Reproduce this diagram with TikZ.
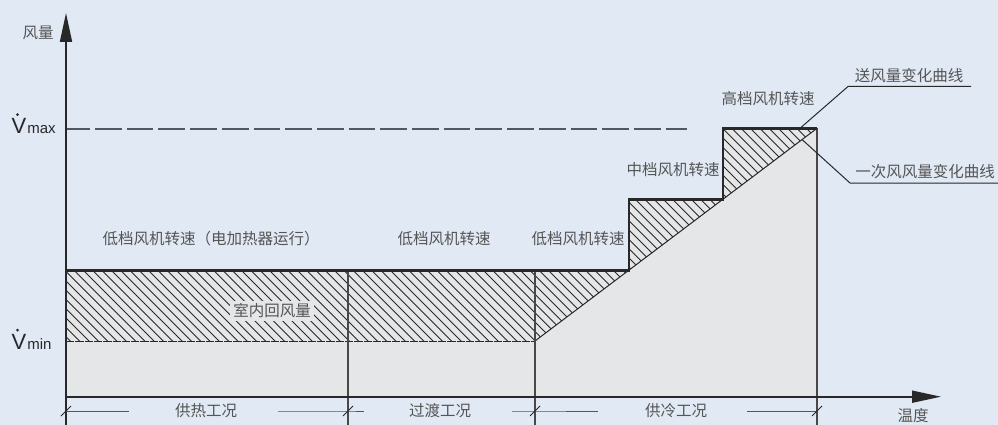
\documentclass[tikz,border=0pt]{standalone}
\usepackage{fontspec}
\setmainfont{Liberation Sans}
\newfontfamily\cjk{Noto Sans CJK SC}
\usetikzlibrary{arrows.meta}
\definecolor{bgc}{RGB}{225,233,244}
\definecolor{grayc}{RGB}{229,230,232}
\definecolor{inkc}{RGB}{40,40,40}
\definecolor{txtc}{RGB}{85,85,85}
\definecolor{dashc}{RGB}{85,87,94}
\begin{document}
\begin{tikzpicture}[x=1pt,y=-1pt,
  axis/.style={line width=1.8pt,draw=inkc,-{Triangle[length=29pt,width=12pt]}},
  stair/.style={line width=2.8pt,draw=inkc,line join=miter},
  divider/.style={line width=1.3pt,draw=inkc!85},
  hatchln/.style={line width=0.9pt,draw=inkc},
  dimln/.style={line width=1pt,draw=txtc},
  leader/.style={line width=1pt,draw=inkc},
  lbl/.style={font=\cjk\fontsize{15.5}{16}\selectfont,text=txtc,inner sep=1pt},
  vbig/.style={font=\fontsize{22}{22}\selectfont,text=inkc,inner sep=0pt},
  vsub/.style={font=\fontsize{15}{15}\selectfont,text=inkc,inner sep=0pt},
]
\fill[bgc] (0,0) rectangle (998,425);
\useasboundingbox (0,0) rectangle (998,425);

% key coordinates
\coordinate (yB) at (66,425);
\coordinate (yT) at (66,13);
\coordinate (xL) at (66,396.7);
\coordinate (xR) at (941,396.7);
\coordinate (p0) at (66,270.7);
\coordinate (p1) at (629,270.7);
\coordinate (p2) at (629,199.5);
\coordinate (p3) at (723,199.5);
\coordinate (p4) at (723,128.3);
\coordinate (p5) at (817,128.3);
\coordinate (m0) at (66,341);
\coordinate (m1) at (535,341);
\coordinate (d1t) at (348,270.7);
\coordinate (d1b) at (348,425);
\coordinate (d2t) at (535,270.7);
\coordinate (d2b) at (535,425);
\coordinate (rEb) at (817,425);

% gray area
\fill[grayc] (xL) -- (p0) -- (p1) -- (p2) -- (p3) -- (p4) -- (p5) -- (817,396.7) -- cycle;

% hatch
\begin{scope}
\clip (p0) -- (p1) -- (p2) -- (p3) -- (p4) -- (p5) -- (m1) -- (m0) -- cycle;
\foreach \i in {0,...,112} \draw[hatchln] ({-160+\i*9.3},120) -- ++(240,240);
\end{scope}
\draw[line width=0.8pt,draw=inkc,dash pattern=on 8.3pt off 1pt] (m0) -- (m1);
\draw[line width=1pt,draw=inkc] (m1) -- (p5);

% Vmax dashed line
\coordinate (vmL) at (66,128.8);
\coordinate (vmR) at (687,128.8);
\draw[line width=1.6pt,draw=dashc,dash pattern=on 26.7pt off 5pt,dash phase=2.7pt] (vmL) -- (vmR);

% dividers and right edge
\draw[divider] (d1t) -- (d1b);
\draw[divider] (d2t) -- (d2b);
\draw[divider] (p5) -- (rEb);

% stairs
\draw[stair] (p0) -- (p1) -- (p2) -- (p3) -- (p4) -- (p5);

% axes
\draw[axis] (yB) -- (yT);
\draw[axis] (xL) -- (xR);

% label in hatch
\node[lbl,fill=grayc,inner sep=3pt] (room) at (272,311) {室内回风量};

% axis labels
\node[lbl] (fl) at (38,33) {风量};
\node[lbl] (wd) at (913,416) {温度};

% Vmax / Vmin
\node[vbig,anchor=base west] (vmaxV) at (11.5,133.5) {V};
\node[vsub,anchor=base west] (vmaxS) at ([xshift=0.5pt]vmaxV.base east) {max};
\fill[inkc] ([xshift=-1.5pt,yshift=3.5pt]vmaxV.north) circle (1.5pt);
\node[vbig,anchor=base west] (vminV) at (11.5,349) {V};
\node[vsub,anchor=base west] (vminS) at ([xshift=0.5pt]vminV.base east) {min};
\fill[inkc] ([xshift=-1.5pt,yshift=3.5pt]vminV.north) circle (1.5pt);

% speed labels
\node[lbl] (s1) at (211,239) {低档风机转速（电加热器运行）};
\node[lbl] (s2) at (444,239) {低档风机转速};
\node[lbl] (s3) at (578,239) {低档风机转速};
\node[lbl] (s4) at (673,170) {中档风机转速};
\node[lbl] (s5) at (768,99) {高档风机转速};

% leaders
\coordinate (la0) at (800,128.3);
\coordinate (la1) at (848,86.5);
\coordinate (la2) at (971,86.5);
\draw[leader] (la0) -- (la1) -- (la2);
\node[lbl,anchor=south] (c1) at (909,84) {送风量变化曲线};
\coordinate (lb0) at (802,139.5);
\coordinate (lb1) at (850,183);
\coordinate (lb2) at (998,183);
\draw[leader] (lb0) -- (lb1) -- (lb2);
\node[lbl,anchor=south] (c2) at (925,180.5) {一次风风量变化曲线};

% dimension line
\node[lbl] (g1) at (206,411) {供热工况};
\node[lbl] (g2) at (440,411) {过渡工况};
\node[lbl] (g3) at (676,411) {供冷工况};
\coordinate (k0) at (66,411);
\coordinate (k1) at (348,411);
\coordinate (k2) at (535,411);
\coordinate (k3) at (817,411);
\draw[dimln] (k0) -- (129,411);
\draw[dimln] (278,411) -- (k1) -- (364,411);
\draw[dimln] (512,411) -- (k2) -- (598,411);
\draw[dimln] (747,411) -- (k3);
\foreach \k in {k0,k1,k2,k3}
  \draw[line width=1pt,draw=inkc] ([xshift=-5pt,yshift=-5pt]\k) -- ([xshift=5pt,yshift=5pt]\k);
\end{tikzpicture}
\end{document}
